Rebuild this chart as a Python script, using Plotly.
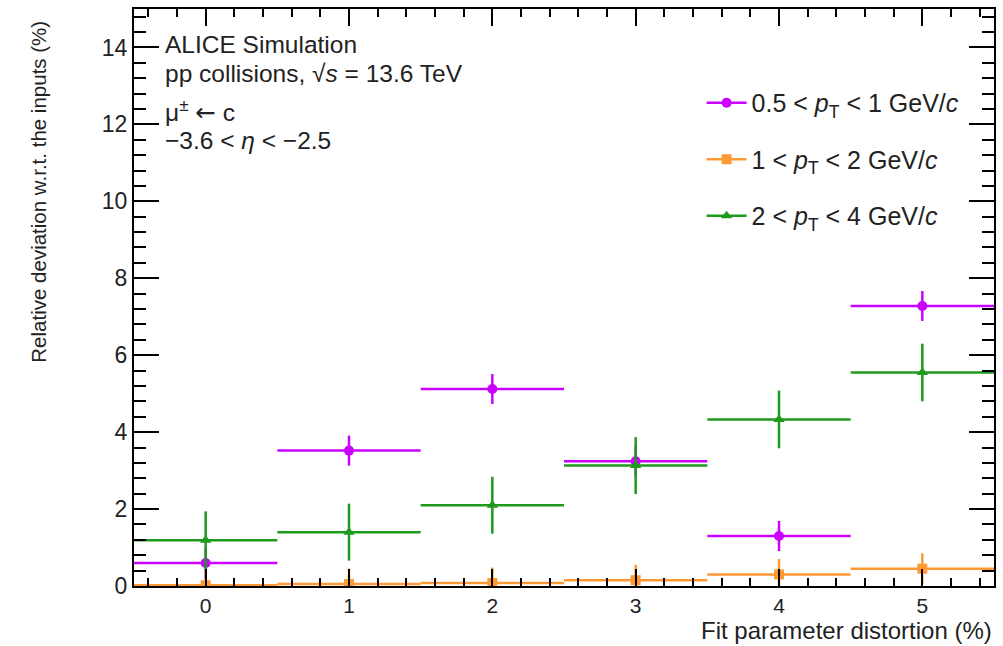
import plotly.graph_objects as go

distortion = [0, 1, 2, 3, 4, 5]
bin_half_width = [0.5, 0.5, 0.5, 0.5, 0.5, 0.5]

dev_pt_05_1 = [0.60, 3.52, 5.12, 3.24, 1.30, 7.28]
err_pt_05_1 = [0.40, 0.39, 0.39, 0.39, 0.39, 0.39]

dev_pt_1_2 = [0.02, 0.05, 0.08, 0.15, 0.30, 0.45]
err_pt_1_2 = [0.40, 0.40, 0.40, 0.40, 0.40, 0.40]

dev_pt_2_4 = [1.19, 1.40, 2.10, 3.13, 4.33, 5.55]
err_pt_2_4 = [0.75, 0.74, 0.74, 0.74, 0.75, 0.75]

series = [
    ("0.5 < <i>p</i><sub>T</sub> < 1 GeV/<i>c</i>", dev_pt_05_1, err_pt_05_1, "#cc00ff", "circle"),
    ("1 < <i>p</i><sub>T</sub> < 2 GeV/<i>c</i>", dev_pt_1_2, err_pt_1_2, "#ff9933", "square"),
    ("2 < <i>p</i><sub>T</sub> < 4 GeV/<i>c</i>", dev_pt_2_4, err_pt_2_4, "#1e9a1e", "triangle-up"),
]

FONT = "Liberation Sans, Arial, Helvetica, sans-serif"

fig = go.Figure()
for i, (name, vals, errs, col, sym) in enumerate(series):
    fig.add_trace(go.Scatter(
        x=distortion, y=vals, mode="markers", showlegend=False,
        marker=dict(color=col, symbol=sym, size=10),
        error_x=dict(type="data", array=bin_half_width, color=col, thickness=2.5, width=0),
        error_y=dict(type="data", array=errs, color=col, thickness=2.5, width=0),
        cliponaxis=True,
    ))
for i, (name, vals, errs, col, sym) in enumerate(series):
    fig.add_trace(go.Scatter(
        x=[None], y=[None], mode="lines+markers", name=name, showlegend=True,
        legendgroup=f"g{i}",
        marker=dict(color=col, symbol=sym, size=10),
        line=dict(color=col, width=2.5),
    ))

axis_common = dict(
    showline=True, linecolor="black", linewidth=2, mirror="ticks",
    ticks="inside", tickcolor="black", showgrid=False, zeroline=False,
)

fig.update_xaxes(
    range=[-0.5, 5.5], tickmode="array", tickvals=distortion,
    ticktext=[str(v) for v in distortion],
    ticklen=17, tickwidth=1.5,
    tickfont=dict(family=FONT, size=21, color="#222"),
    minor=dict(dtick=0.2, tick0=0, ticks="inside", ticklen=8, tickcolor="black", tickwidth=1.5, showgrid=False),
    **axis_common,
)
fig.update_yaxes(
    range=[0, 15], tickmode="array", tickvals=[0, 2, 4, 6, 8, 10, 12, 14],
    ticklen=25, tickwidth=1.5,
    tickfont=dict(family=FONT, size=23, color="#222"),
    minor=dict(dtick=0.4, tick0=0, ticks="inside", ticklen=12, tickcolor="black", tickwidth=1.5, showgrid=False),
    **axis_common,
)

ann_font = dict(family=FONT, size=24.5, color="#222")
texts = [
    ("ALICE Simulation", 0.938),
    ("pp collisions, √<i>s</i> = 13.6 TeV", 0.888),
    ("μ<sup>±</sup> <span style=\"font-family:DejaVu Sans\">←</span> c", 0.824),
    ("−3.6 < <i>η</i> < −2.5", 0.772),
]
for t, y in texts:
    fig.add_annotation(text=t, xref="paper", yref="paper", x=0.034, y=y,
                       xanchor="left", yanchor="middle", showarrow=False, font=ann_font)

fig.add_annotation(text="Relative deviation w.r.t. the inputs (%)", xref="paper", yref="paper",
                   x=-0.112, y=1.0, xanchor="center", yanchor="top", textangle=-90,
                   showarrow=False, font=dict(family=FONT, size=20.5, color="#222"),
                   yshift=-10)
fig.add_annotation(text="Fit parameter distortion (%)", xref="paper", yref="paper",
                   x=1.0, y=0, xanchor="right", yanchor="bottom", yshift=-60,
                   showarrow=False, font=dict(family=FONT, size=24, color="#222"))

fig.update_layout(
    width=1003, height=646,
    margin=dict(l=134, r=8, t=7, b=60),
    paper_bgcolor="white", plot_bgcolor="white",
    font=dict(family=FONT, color="#222"),
    showlegend=True,
    legend=dict(x=0.66, y=0.877, xanchor="left", yanchor="top",
                font=dict(family=FONT, size=25, color="#222"),
                bgcolor="rgba(0,0,0,0)", tracegroupgap=21, itemwidth=40),
)

fig.write_html("out.html")
